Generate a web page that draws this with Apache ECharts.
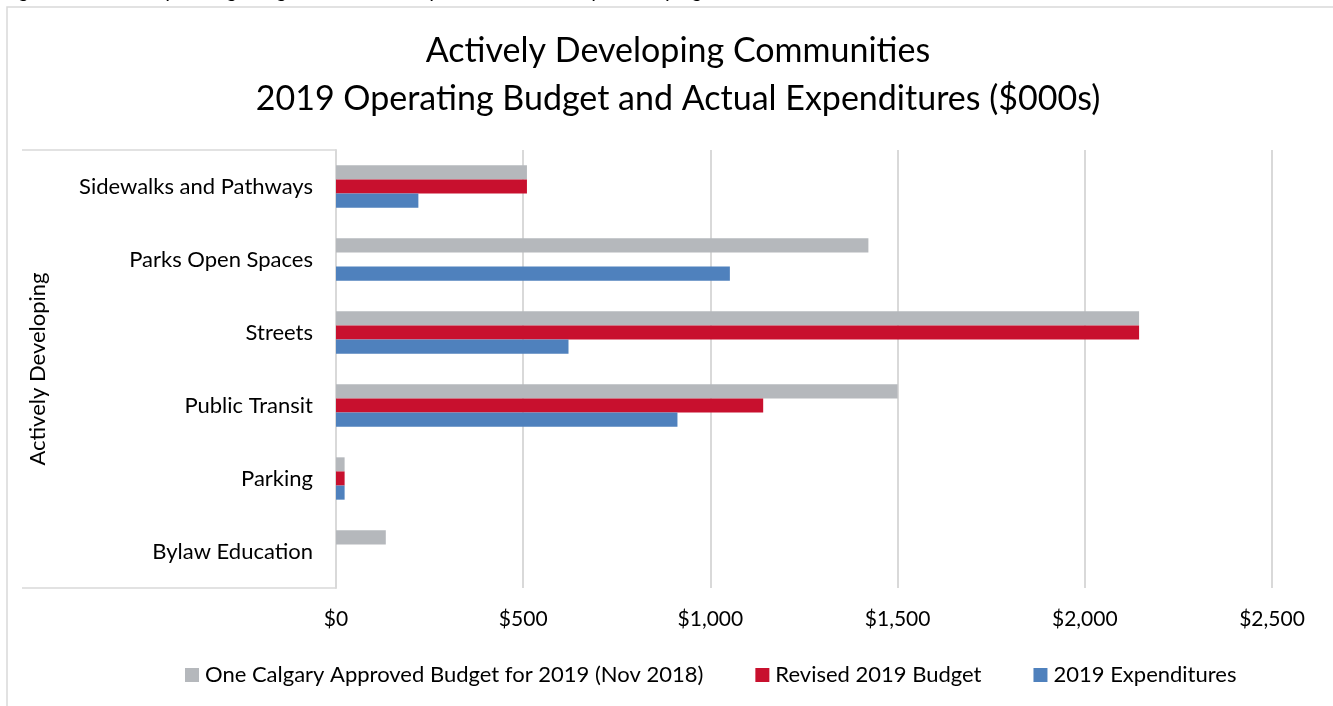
<!DOCTYPE html>
<html>
<head>
<meta charset="utf-8">
<title>Actively Developing Communities – 2019 Operating Budget</title>
<script src="https://cdn.jsdelivr.net/npm/echarts@6/dist/echarts.min.js"></script>
<style>
  html, body { margin: 0; padding: 0; background: #ffffff; }
  #chart { width: 1333px; height: 706px; }
</style>
</head>
<body>
<div id="chart"></div>
<script>
// Service lines, top to bottom
const categories = [
  'Sidewalks and Pathways',
  'Parks Open Spaces',
  'Streets',
  'Public Transit',
  'Parking',
  'Bylaw Education'
];

// Values in $000s
const approvedBudget = [510, 1422, 2145, 1500, 23, 133];
const revisedBudget  = [510, 0, 2145, 1141, 23, 0];
const expenditures   = [220, 1052, 621, 912, 23, 0];

const seriesNames = [
  'One Calgary Approved Budget for 2019 (Nov 2018)',
  'Revised 2019 Budget',
  '2019 Expenditures'
];

const valueTicks = { min: 0, max: 2500, interval: 500 };

const FONT = 'Lato, "Open Sans", sans-serif';
const GRID = { left: 336, top: 150, right: 61, bottom: 118 };
const CHART_H = 706;

const chart = echarts.init(document.getElementById('chart'), null, { renderer: 'canvas' });

function money(v) {
  return '$' + v.toLocaleString('en-US');
}

const option = {
  backgroundColor: '#ffffff',
  animation: false,
  color: ['#b5b8bc', '#c8102e', '#4f81bd'],
  title: {
    text: 'Actively Developing Communities\n2019 Operating Budget and Actual Expenditures ($000s)',
    left: 673,
    top: 22,
    textAlign: 'center',
    textStyle: {
      fontFamily: FONT,
      fontWeight: 'normal',
      fontSize: 34,
      lineHeight: 48,
      color: '#000000'
    }
  },
  legend: {
    bottom: 15,
    left: 180,
    itemWidth: 14,
    itemHeight: 14,
    itemGap: 52,
    icon: 'rect',
    textStyle: { fontFamily: FONT, fontSize: 22, color: '#000000', padding: [0, 0, 0, 1] },
    data: seriesNames
  },
  grid: {
    left: GRID.left,
    top: GRID.top,
    right: GRID.right,
    bottom: GRID.bottom,
    containLabel: false
  },
  xAxis: {
    type: 'value',
    min: valueTicks.min,
    max: valueTicks.max,
    interval: valueTicks.interval,
    axisLine: { show: false },
    axisTick: { show: false },
    axisLabel: {
      margin: 21,
      fontFamily: FONT,
      fontSize: 21,
      color: '#000000',
      formatter: money
    },
    splitLine: { lineStyle: { color: '#d9d9d9', width: 2 } }
  },
  yAxis: {
    type: 'category',
    data: categories,
    inverse: true,
    name: 'Actively Developing',
    nameLocation: 'middle',
    nameGap: 287,
    nameRotate: 90,
    nameTextStyle: { fontFamily: FONT, fontSize: 22, color: '#000000' },
    axisLine: { show: true, lineStyle: { color: '#d9d9d9', width: 2 } },
    axisTick: { show: false },
    axisLabel: {
      margin: 23,
      fontFamily: FONT,
      fontSize: 22,
      color: '#000000'
    }
  },
  series: [
    { name: seriesNames[0], type: 'bar', data: approvedBudget, barGap: '0%', barCategoryGap: '42%' },
    { name: seriesNames[1], type: 'bar', data: revisedBudget, barGap: '0%', barCategoryGap: '42%' },
    { name: seriesNames[2], type: 'bar', data: expenditures, barGap: '0%', barCategoryGap: '42%' }
  ],
  graphic: [
    // Chart frame
    {
      type: 'rect',
      z: -10,
      shape: { x: 7, y: 7, width: 1400, height: 800 },
      style: { fill: '#ffffff', stroke: '#d9d9d9', lineWidth: 1.5 },
      silent: true
    },
    // Caption from the page above, cut off at the top edge
    {
      type: 'text',
      z: 10,
      x: 4,
      y: -20,
      style: {
        text: 'Figure 20: 2019 Operating Budget and Actual Expenditures, Actively Developing Communities',
        font: 'italic 21px ' + FONT,
        fill: '#000000'
      }
    },
    // Group bracket lines of the category axis
    {
      type: 'line',
      shape: { x1: 22, y1: GRID.top, x2: GRID.left, y2: GRID.top },
      style: { stroke: '#d9d9d9', lineWidth: 1.5 },
      silent: true
    },
    {
      type: 'line',
      shape: { x1: 22, y1: CHART_H - GRID.bottom, x2: GRID.left, y2: CHART_H - GRID.bottom },
      style: { stroke: '#d9d9d9', lineWidth: 1.5 },
      silent: true
    }
  ]
};

chart.setOption(option);
</script>
</body>
</html>
